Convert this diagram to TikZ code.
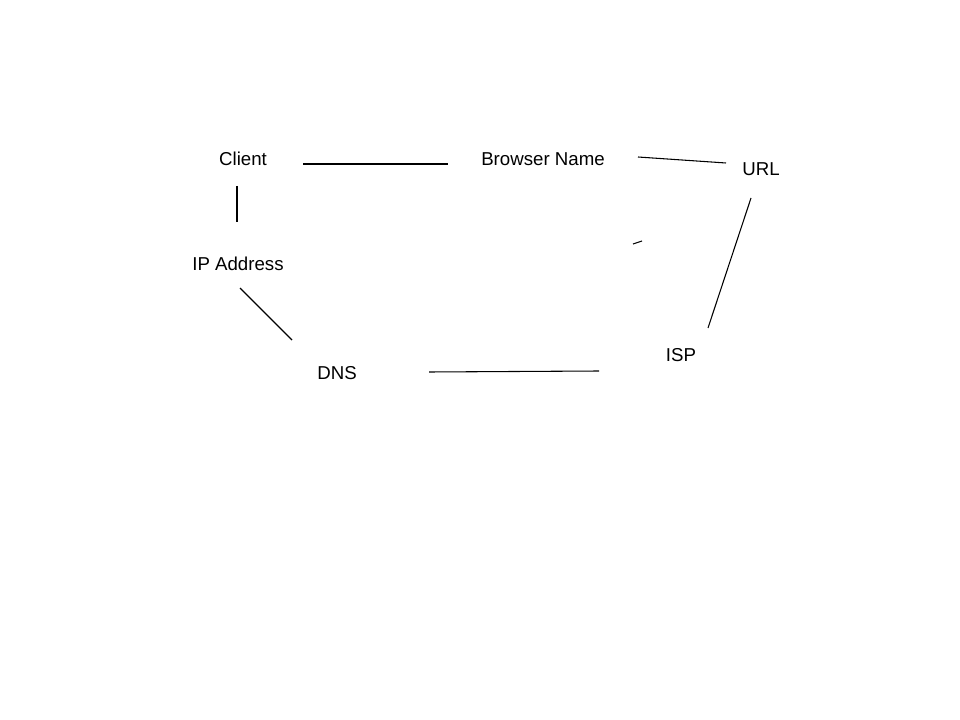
\documentclass[tikz,border=0pt]{standalone}
\usepackage{fontspec}
\setmainfont{Liberation Sans}
\begin{document}
\begin{tikzpicture}[x=0.75pt,y=-0.75pt,
  lbl/.style={inner sep=0pt,font=\fontsize{14}{16}\selectfont},
  seg/.style={draw=black,line width=0.8pt}]
\useasboundingbox (0,0) rectangle (960,720);
\fill[white] (0,0) rectangle (960,720);
\node[lbl] (client) at (243,159) {Client};
\node[lbl] (browser) at (543,159) {Browser Name};
\node[lbl] (url) at (761,169) {URL};
\node[lbl] (ip) at (238,264) {IP Address};
\node[lbl] (dns) at (337,373) {DNS};
\node[lbl] (isp) at (681,355) {ISP};
\coordinate (a1) at (303,164); \coordinate (a2) at (448,164);
\coordinate (b1) at (638,157); \coordinate (b2) at (726,163);
\coordinate (c1) at (237,186); \coordinate (c2) at (237,222);
\coordinate (d1) at (240,288); \coordinate (d2) at (292,340);
\coordinate (e1) at (429,372); \coordinate (e2) at (599,371);
\coordinate (f1) at (751,198); \coordinate (f2) at (708,328);
\coordinate (g1) at (633,244); \coordinate (g2) at (642,241);
\draw[seg] (a1) -- (a2);
\draw[seg] (b1) -- (b2);
\draw[seg] (c1) -- (c2);
\draw[seg] (d1) -- (d2);
\draw[seg] (e1) -- (e2);
\draw[seg] (f1) -- (f2);
\draw[seg] (g1) -- (g2);
\end{tikzpicture}
\end{document}
